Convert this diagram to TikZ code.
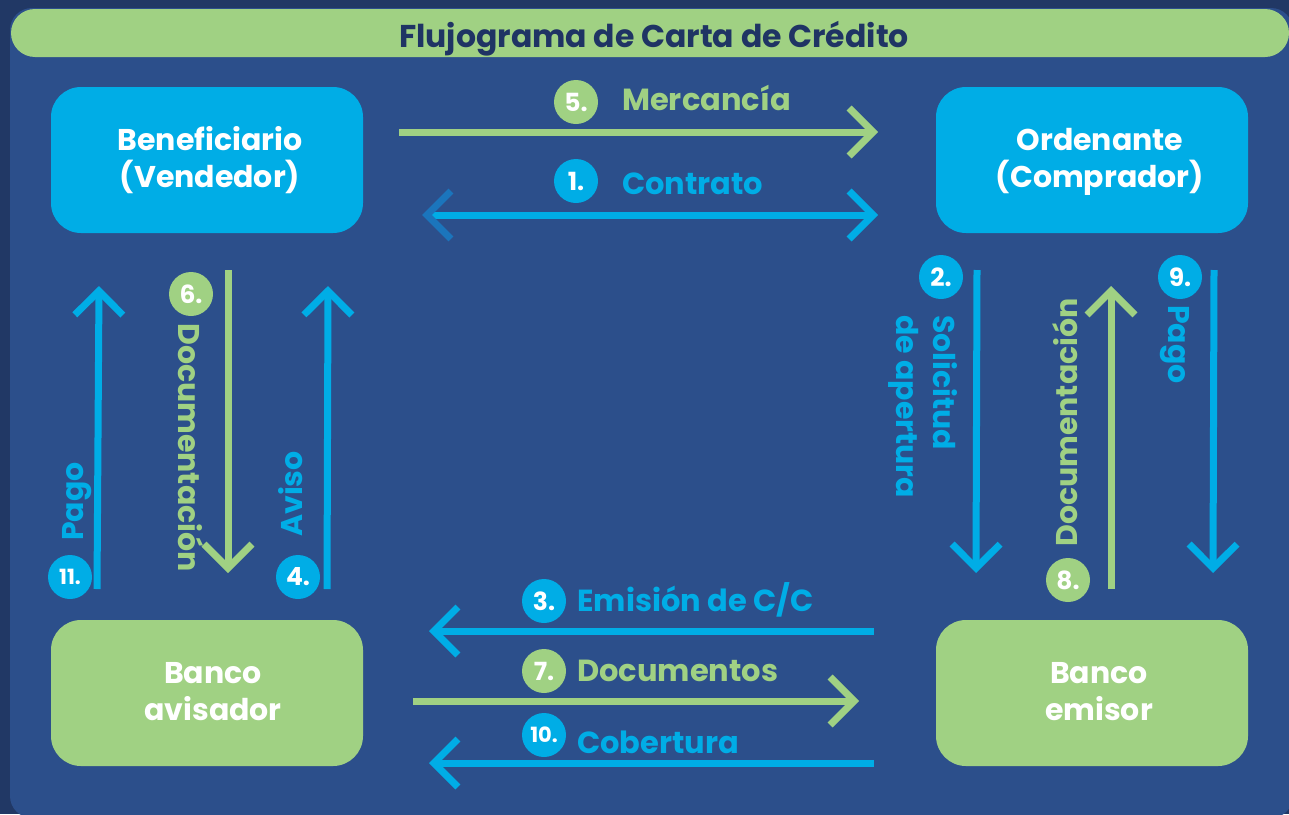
\documentclass[tikz,border=0pt]{standalone}
\usepackage{fontspec}
\setmainfont{Poppins}
\usetikzlibrary{arrows.meta}
\definecolor{outerbg}{HTML}{213865}
\definecolor{panel}{HTML}{2C4F8B}
\definecolor{lgreen}{HTML}{A0D183}
\definecolor{cyanb}{HTML}{00ADE6}
\definecolor{darkarrow}{HTML}{1B75BC}
\definecolor{titletext}{HTML}{1F3464}
\tikzset{
  box/.style={rounded corners=30pt, minimum width=312pt, minimum height=146pt, inner sep=0pt},
  boxtext/.style={text=white, font=\fontsize{30}{37}\selectfont\bfseries, align=center, inner sep=0pt},
  num/.style={circle, minimum size=44pt, inner sep=0pt, text=white, font=\fontsize{25}{25}\selectfont\bfseries},
  numtwo/.style={num, font=\fontsize{21}{21}\selectfont\bfseries},
  lbl/.style={font=\fontsize{30.5}{36}\selectfont\bfseries, inner sep=0pt, anchor=base west},
  vlbl/.style={font=\fontsize{30}{37}\selectfont\bfseries, inner sep=0pt, anchor=base west, align=left},
  arr/.style={line width=7pt, -{Straight Barb[length=24pt, width=48pt, line width=7pt]}},
}
\begin{document}
\begin{tikzpicture}[x=1pt, y=-1pt]
\useasboundingbox (0,0) rectangle (1289,814);
\clip (0,0) rectangle (1289,814);
\fill[outerbg] (0,0) rectangle (1289,814);
\fill[panel, rounded corners=22pt] (10,8) rectangle (1293,818);
% title
\fill[lgreen, rounded corners=24pt] (11,9) rectangle (1289,57);
\node[text=titletext, font=\fontsize{31.5}{31.5}\selectfont\bfseries, inner sep=0pt, anchor=base] (title) at (654,47) {Flujograma de Carta de Crédito};
% boxes
\node[box, fill=cyanb] (ben) at (207,160) {};
\node[box, fill=cyanb] (ord) at (1092,160) {};
\node[box, fill=lgreen] (bav) at (207,693) {};
\node[box, fill=lgreen] (bem) at (1092,693) {};
\node[boxtext, anchor=base] (bent) at (210,187) {Beneficiario\\(Vendedor)};
\node[boxtext, anchor=base] (ordt) at (1100,187) {Ordenante\\(Comprador)};
\node[boxtext, anchor=base] (bavt) at (213,720) {Banco\\avisador};
\node[boxtext, anchor=base] (bemt) at (1099,720) {Banco\\emisor};
% coordinates for arrows
\coordinate (a5s) at (399,132);  \coordinate (a5e) at (878,132);
\coordinate (a1s) at (422,215);  \coordinate (a1e) at (878,215);
\coordinate (a3s) at (874,631);  \coordinate (a3e) at (429,631);
\coordinate (a7s) at (413,701);  \coordinate (a7e) at (859,701);
\coordinate (a10s) at (874,763); \coordinate (a10e) at (429,763);
\coordinate (a11s) at (97,589);  \coordinate (a11e) at (99,286);
\coordinate (a6s) at (228,270);  \coordinate (a6e) at (228,573);
\coordinate (a4s) at (327,589);  \coordinate (a4e) at (328,286);
\coordinate (a2s) at (977,270);  \coordinate (a2e) at (976,573);
\coordinate (a8s) at (1111,589); \coordinate (a8e) at (1111,286);
\coordinate (a9s) at (1214,270); \coordinate (a9e) at (1213,573);
% arrows
\draw[arr, lgreen] (a5s) -- (a5e);
\draw[line width=7pt, cyanb, {Straight Barb[length=24pt, width=48pt, line width=7pt, color=darkarrow]}-{Straight Barb[length=24pt, width=48pt, line width=7pt]}] (a1s) -- (a1e);
\draw[arr, cyanb] (a3s) -- (a3e);
\draw[arr, lgreen] (a7s) -- (a7e);
\draw[arr, cyanb] (a10s) -- (a10e);
\draw[arr, cyanb] (a11s) -- (a11e);
\draw[arr, lgreen] (a6s) -- (a6e);
\draw[arr, cyanb] (a4s) -- (a4e);
\draw[arr, cyanb] (a2s) -- (a2e);
\draw[arr, lgreen] (a8s) -- (a8e);
\draw[arr, cyanb] (a9s) -- (a9e);
% number circles
\node[num, fill=lgreen] (n5) at (576,102) {5.};
\node[num, fill=cyanb] (n1) at (576,181) {1.};
\node[num, fill=cyanb] (n3) at (544,601) {3.};
\node[num, fill=lgreen] (n7) at (544,671) {7.};
\node[numtwo, fill=cyanb] (n10) at (544,735) {10.};
\node[numtwo, fill=cyanb] (n11) at (70,577) {11.};
\node[num, fill=lgreen] (n6) at (191,294) {6.};
\node[num, fill=cyanb] (n4) at (298,577) {4.};
\node[num, fill=cyanb] (n2) at (941,277) {2.};
\node[num, fill=cyanb] (n9) at (1180,277) {9.};
\node[num, fill=lgreen] (n8) at (1068,580) {8.};
% horizontal labels
\node[lbl, text=lgreen] (l5) at (622,110) {Mercancía};
\node[lbl, text=cyanb] (l1) at (622,194) {Contrato};
\node[lbl, text=cyanb] (l3) at (577,611) {Emisión de C/C};
\node[lbl, text=lgreen] (l7) at (577,681) {Documentos};
\node[lbl, text=cyanb] (l10) at (577,753) {Cobertura};
% vertical labels
\node[vlbl, text=cyanb, rotate=90] (l11) at (83,541) {Pago};
\node[vlbl, text=lgreen, rotate=-90] (l6) at (178,323) {Documentación};
\node[vlbl, text=cyanb, rotate=90] (l4) at (302,537) {Aviso};
\node[vlbl, text=cyanb, rotate=-90] (l2) at (896,315) {Solicitud\\de apertura};
\node[vlbl, text=lgreen, rotate=90] (l8) at (1077,547) {Documentación};
\node[vlbl, text=cyanb, rotate=-90] (l9) at (1168,305) {Pago};
\end{tikzpicture}
\end{document}
